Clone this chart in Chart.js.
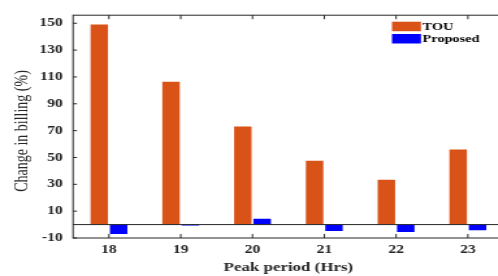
<!DOCTYPE html>
<html>
<head>
<meta charset="utf-8">
<script src="https://cdn.jsdelivr.net/npm/chart.js@4.4.0/dist/chart.umd.min.js"></script>
<style>
html, body { margin: 0; padding: 0; background: #fff; overflow: hidden; width: 498px; height: 276px; }
#wrap { position: absolute; left: 0; top: 0; width: 389px; height: 276px; transform: scaleX(1.3); transform-origin: 0 0; }
</style>
</head>
<body>
<div id="wrap"><canvas id="chart"></canvas></div>
<script>
var hours = ['18', '19', '20', '21', '22', '23'];
var tou = [149, 106.5, 73, 47.5, 33.4, 56];
var proposed = [-7, -0.6, 4.3, -4.8, -5.5, -4.3];
var yTicks = [-10, 10, 30, 50, 70, 90, 110, 130, 150];
var yTitle = 'Change in billing (%)';

var axisColor = '#262626';
var serif = "'Liberation Serif', 'DejaVu Serif', serif";

// box, inward ticks, zero baseline, y title and legend, MATLAB style
var boxPlugin = {
    id: 'box',
    afterDraw: function(chart) {
        var ctx = chart.ctx;
        var a = chart.chartArea;
        var x = chart.scales.x, y = chart.scales.y;
        ctx.save();
        ctx.strokeStyle = axisColor;
        ctx.lineWidth = 1;
        ctx.strokeRect(a.left, a.top, a.right - a.left, a.bottom - a.top);

        var y0 = y.getPixelForValue(0);
        ctx.beginPath();
        ctx.moveTo(a.left, y0);
        ctx.lineTo(a.right, y0);
        ctx.stroke();

        ctx.beginPath();
        for (var i = 0; i < y.ticks.length; i++) {
            var py = y.getPixelForTick(i);
            ctx.moveTo(a.left, py); ctx.lineTo(a.left + 3, py);
            ctx.moveTo(a.right, py); ctx.lineTo(a.right - 3, py);
        }
        for (var j = 0; j < x.ticks.length; j++) {
            var px = x.getPixelForTick(j);
            ctx.moveTo(px, a.bottom); ctx.lineTo(px, a.bottom - 4);
            ctx.moveTo(px, a.top); ctx.lineTo(px, a.top + 4);
        }
        ctx.stroke();

        // y axis title
        ctx.save();
        ctx.translate(17.3, 131);
        ctx.rotate(-Math.PI / 2);
        ctx.font = '14px ' + serif;
        ctx.fillStyle = axisColor;
        ctx.textAlign = 'center';
        ctx.textBaseline = 'middle';
        ctx.fillText(yTitle, 0, 0);
        ctx.restore();

        // legend
        var lx = 301.5, ly = 21.7;
        ctx.font = 'bold 11px ' + serif;
        ctx.textBaseline = 'middle';
        chart.data.datasets.forEach(function(ds, k) {
            var top = ly + k * 12.3;
            ctx.fillStyle = ds.backgroundColor;
            ctx.fillRect(lx, top, 22.3, 9.5);
            ctx.fillStyle = '#000';
            ctx.fillText(ds.label, lx + 23.5, top + 5);
        });
        ctx.restore();
    }
};

new Chart(document.getElementById('chart'), {
    type: 'bar',
    data: {
        labels: hours,
        datasets: [
            { label: 'TOU', data: tou, backgroundColor: '#D95319' },
            { label: 'Proposed', data: proposed, backgroundColor: '#0000FF' }
        ]
    },
    options: {
        responsive: true,
        maintainAspectRatio: false,
        animation: false,
        devicePixelRatio: 1,
        categoryPercentage: 0.54,
        barPercentage: 0.9,
        layout: { padding: { left: 0, right: 1.5, top: 6.7, bottom: 0 } },
        plugins: { legend: { display: false }, tooltip: { enabled: false } },
        scales: {
            x: {
                grid: { display: false, drawTicks: false },
                border: { display: false },
                ticks: { color: axisColor, padding: 5, font: { family: serif, size: 12, weight: 'bold' } },
                title: { display: true, text: 'Peak period (Hrs)', color: axisColor, padding: { top: 0, bottom: 1 },
                         font: { family: serif, size: 13, weight: 'bold' } },
                afterFit: function(s) { s.height = 38; }
            },
            y: {
                min: -10,
                max: 156,
                grid: { display: false, drawTicks: false },
                border: { display: false },
                afterBuildTicks: function(s) { s.ticks = yTicks.map(function(v) { return { value: v }; }); },
                ticks: { color: axisColor, padding: 8, font: { family: serif, size: 12, weight: 'bold' } },
                afterFit: function(s) { s.width = 56.2; }
            }
        }
    },
    plugins: [boxPlugin]
});
</script>
</body>
</html>
